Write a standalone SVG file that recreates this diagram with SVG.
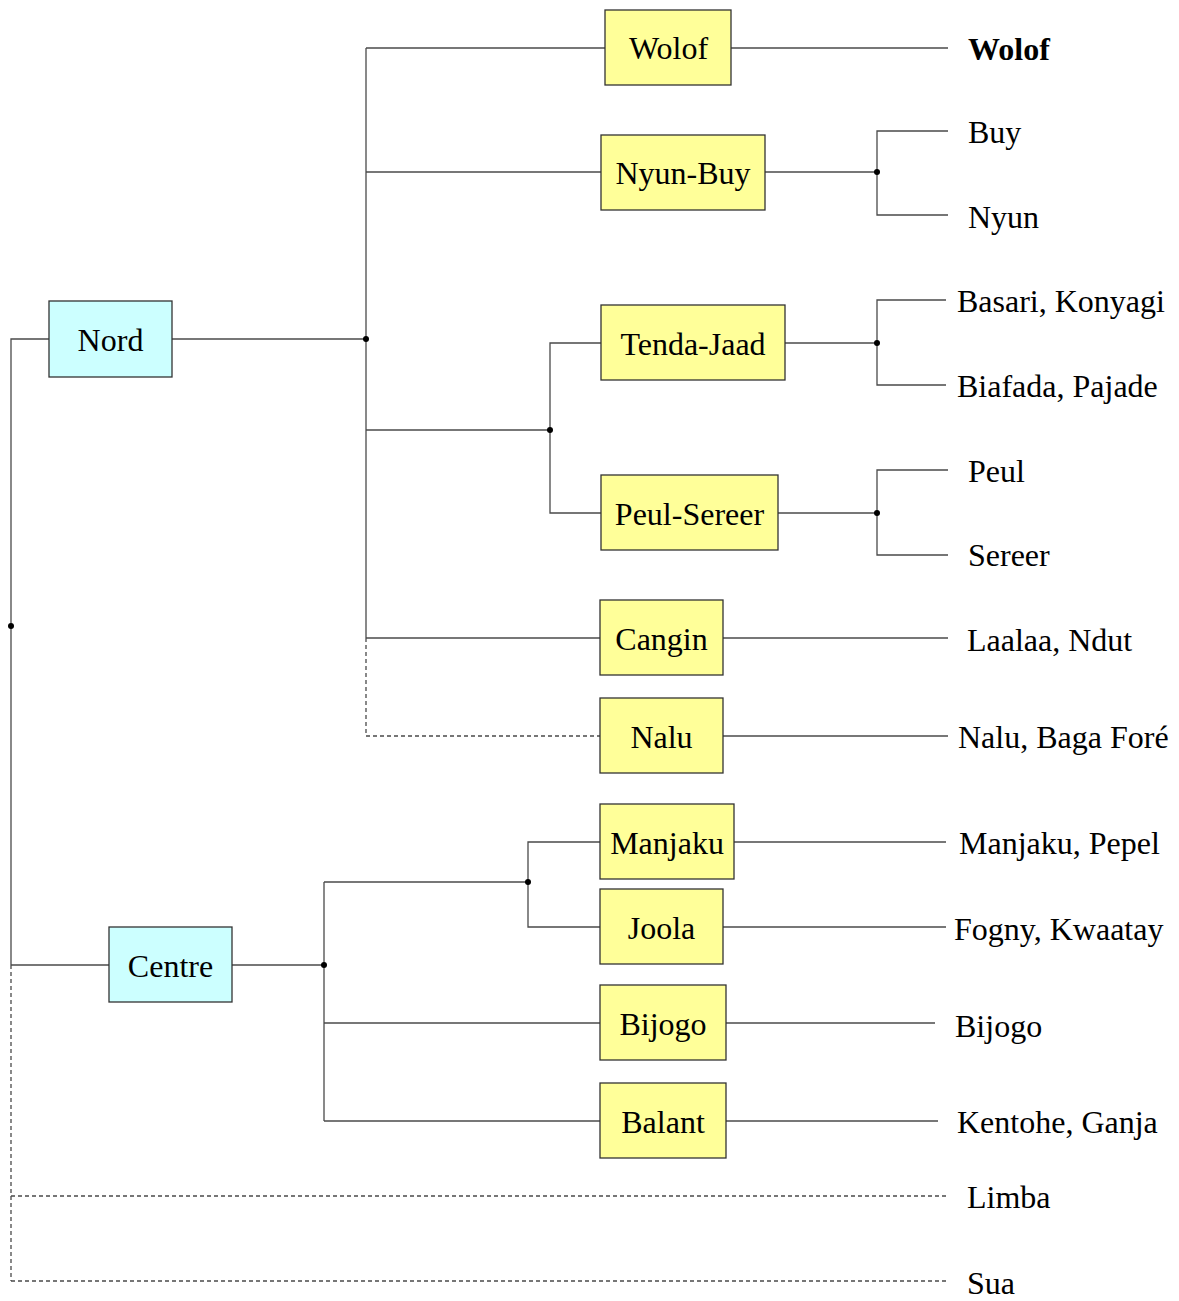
<svg xmlns="http://www.w3.org/2000/svg" width="1179" height="1301" viewBox="0 0 1179 1301">
<style>
.bg{fill:#ffffff}
.ln{stroke:#4a4a4a;stroke-width:1.3;fill:none}
.dl{stroke:#4a4a4a;stroke-width:1.3;fill:none;stroke-dasharray:4 3}
.dot{fill:#000000}
.yb{fill:#ffff99;stroke:#333333;stroke-width:1.3}
.cb{fill:#ccffff;stroke:#333333;stroke-width:1.3}
text{font-family:"Liberation Serif","Times New Roman",serif;font-size:32px;fill:#000000}
.c{text-anchor:middle}
.b{font-weight:bold}
</style>
<rect class="bg" x="0" y="0" width="1179" height="1301"/>
<g id="connectors">
  <path class="ln" d="M49,339 H11 V965"/>
  <path class="dl" d="M11,965 V1281"/>
  <path class="ln" d="M11,965 H109"/>
  <path class="dl" d="M11,1196 H948"/>
  <path class="dl" d="M11,1281 H948"/>
  <circle class="dot" cx="11" cy="626" r="3"/>
  <path class="ln" d="M172,339 H366"/>
  <path class="ln" d="M366,48 V638"/>
  <path class="dl" d="M366,638 V736 H600"/>
  <circle class="dot" cx="366" cy="339" r="3"/>
  <path class="ln" d="M366,48 H605"/>
  <path class="ln" d="M366,172 H601"/>
  <path class="ln" d="M366,430 H550"/>
  <path class="ln" d="M366,638 H600"/>
  <path class="ln" d="M601,343 H550 V513 H601"/>
  <circle class="dot" cx="550" cy="430" r="3"/>
  <path class="ln" d="M731,48 H948"/>
  <path class="ln" d="M765,172 H877"/>
  <path class="ln" d="M948,131 H877 V215 H948"/>
  <circle class="dot" cx="877" cy="172" r="3"/>
  <path class="ln" d="M785,343 H877"/>
  <path class="ln" d="M946,300 H877 V385 H946"/>
  <circle class="dot" cx="877" cy="343" r="3"/>
  <path class="ln" d="M778,513 H877"/>
  <path class="ln" d="M948,470 H877 V555 H948"/>
  <circle class="dot" cx="877" cy="513" r="3"/>
  <path class="ln" d="M723,638 H948"/>
  <path class="ln" d="M723,736 H948"/>
  <path class="ln" d="M232,965 H324"/>
  <path class="ln" d="M324,882 V1121"/>
  <circle class="dot" cx="324" cy="965" r="3"/>
  <path class="ln" d="M324,882 H528"/>
  <path class="ln" d="M600,842 H528 V927 H600"/>
  <circle class="dot" cx="528" cy="882" r="3"/>
  <path class="ln" d="M324,1023 H600"/>
  <path class="ln" d="M324,1121 H600"/>
  <path class="ln" d="M734,842 H946"/>
  <path class="ln" d="M723,927 H946"/>
  <path class="ln" d="M726,1023 H935"/>
  <path class="ln" d="M726,1121 H938"/>
</g>
<g id="node-nord"><rect class="cb" x="49" y="301" width="123" height="76"/><text class="c" x="110.5" y="351">Nord</text></g>
<g id="node-centre"><rect class="cb" x="109" y="927" width="123" height="75"/><text class="c" x="170.5" y="977">Centre</text></g>
<g id="node-wolof"><rect class="yb" x="605" y="10" width="126" height="75"/><text class="c" x="668.5" y="59">Wolof</text></g>
<g id="node-nyunbuy"><rect class="yb" x="601" y="135" width="164" height="75"/><text class="c" x="683" y="184">Nyun-Buy</text></g>
<g id="node-tendajaad"><rect class="yb" x="601" y="305" width="184" height="75"/><text class="c" x="693" y="355">Tenda-Jaad</text></g>
<g id="node-peulsereer"><rect class="yb" x="601" y="475" width="177" height="75"/><text class="c" x="689.5" y="525">Peul-Sereer</text></g>
<g id="node-cangin"><rect class="yb" x="600" y="600" width="123" height="75"/><text class="c" x="661.5" y="650">Cangin</text></g>
<g id="node-nalu"><rect class="yb" x="600" y="698" width="123" height="75"/><text class="c" x="661.5" y="748">Nalu</text></g>
<g id="node-manjaku"><rect class="yb" x="600" y="804" width="134" height="75"/><text class="c" x="667" y="854">Manjaku</text></g>
<g id="node-joola"><rect class="yb" x="600" y="889" width="123" height="75"/><text class="c" x="661.5" y="939">Joola</text></g>
<g id="node-bijogo"><rect class="yb" x="600" y="985" width="126" height="75"/><text class="c" x="663" y="1035">Bijogo</text></g>
<g id="node-balant"><rect class="yb" x="600" y="1083" width="126" height="75"/><text class="c" x="663" y="1133">Balant</text></g>
<g id="leaves">
  <text class="b" x="968" y="60">Wolof</text>
  <text x="968" y="143">Buy</text>
  <text x="968" y="228">Nyun</text>
  <text x="957" y="312">Basari, Konyagi</text>
  <text x="957" y="397">Biafada, Pajade</text>
  <text x="968" y="482">Peul</text>
  <text x="968" y="566">Sereer</text>
  <text x="967" y="651">Laalaa, Ndut</text>
  <text x="958" y="748">Nalu, Baga Foré</text>
  <text x="959" y="854">Manjaku, Pepel</text>
  <text x="954" y="940">Fogny, Kwaatay</text>
  <text x="955" y="1037">Bijogo</text>
  <text x="957" y="1133">Kentohe, Ganja</text>
  <text x="967" y="1208">Limba</text>
  <text x="967" y="1294">Sua</text>
</g>
</svg>
